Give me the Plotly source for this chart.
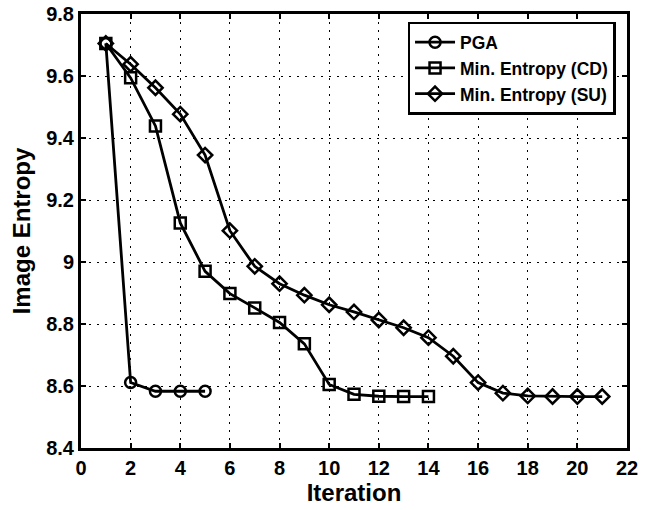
import plotly.graph_objects as go

iter_pga = [1, 2, 3, 4, 5]
pga = [9.705, 8.611, 8.583, 8.583, 8.583]

iter_cd = list(range(1, 15))
cd = [9.705, 9.594, 9.439, 9.126, 8.970, 8.898, 8.852, 8.805, 8.736, 8.605, 8.573, 8.567, 8.566, 8.566]

iter_su = list(range(1, 22))
su = [9.705, 9.638, 9.562, 9.477, 9.345, 9.101, 8.986, 8.930, 8.893, 8.862, 8.839,
      8.813, 8.788, 8.756, 8.696, 8.611, 8.577, 8.568, 8.566, 8.566, 8.566]

x_ticks = list(range(0, 23, 2))
y_ticks = [8.4, 8.6, 8.8, 9.0, 9.2, 9.4, 9.6, 9.8]
y_tick_text = ["8.4", "8.6", "8.8", "9", "9.2", "9.4", "9.6", "9.8"]

FONT = "Liberation Sans, Arial, sans-serif"

fig = go.Figure()
series = [
    ("PGA", iter_pga, pga, "circle-open"),
    ("Min. Entropy (CD)", iter_cd, cd, "square-open"),
    ("Min. Entropy (SU)", iter_su, su, "diamond-open"),
]
for name, xs, ys, sym in series:
    fig.add_trace(go.Scatter(
        x=xs, y=ys, name=name, mode="lines+markers",
        line=dict(color="black", width=2.8),
        marker=dict(symbol=sym, size=11, color="black", line=dict(width=2.5, color="black")),
    ))

axis_common = dict(
    showline=True, linecolor="black", linewidth=3, mirror="ticks",
    ticks="inside", ticklen=5, tickwidth=2, tickcolor="black",
    showgrid=True, gridcolor="black", gridwidth=1, griddash="2px,6px",
    zeroline=False, automargin=False,
    tickfont=dict(family=FONT, size=20, color="black", weight="bold"),
)

fig.update_layout(
    width=656, height=510,
    margin=dict(l=81, r=29, t=14, b=62),
    paper_bgcolor="white", plot_bgcolor="white",
    font=dict(family=FONT, color="black"),
    xaxis=dict(range=[0, 22], tickvals=x_ticks,
               title=dict(text="Iteration", standoff=0,
                          font=dict(family=FONT, size=24, color="black", weight="bold")),
               **axis_common),
    yaxis=dict(range=[8.4, 9.8], tickvals=y_ticks, ticktext=y_tick_text,
               title=dict(text="Image Entropy", standoff=9,
                          font=dict(family=FONT, size=24, color="black", weight="bold")),
               **axis_common),
    legend=dict(x=0.979, y=0.982, xanchor="right", yanchor="top",
                bordercolor="black", borderwidth=2.5, bgcolor="white",
                font=dict(family=FONT, size=17.5, color="black", weight="bold"),
                tracegroupgap=0, itemwidth=40),
    showlegend=True,
)

fig.write_html("out.html", config={"displayModeBar": False},
               post_script="document.body.style.margin='0';")
